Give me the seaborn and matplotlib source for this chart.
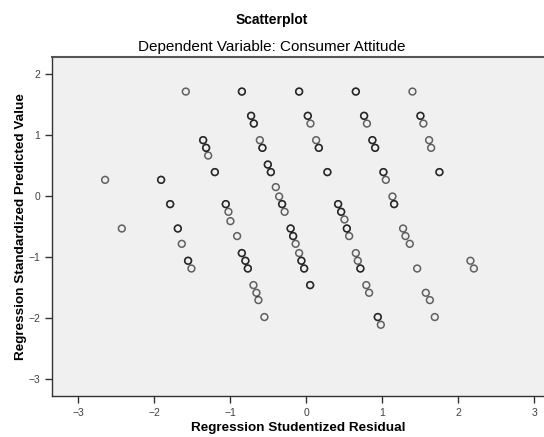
import numpy as np
import pandas as pd
import matplotlib
matplotlib.use("Agg")
import matplotlib.pyplot as plt
import seaborn as sns

# studentized residual, standardized predicted value, number of cases at that spot
resid = [-1.583, -0.845, -0.092, 0.654, 1.399,
         -0.724, 0.022, 0.763, 1.504,
         -0.688, 0.057, 0.800, 1.543,
         -1.355, -0.609, 0.132, 0.872, 1.618,
         -1.316, -0.575, 0.167, 0.908, 1.645,
         -1.289, -0.504,
         -1.201, -0.464, 0.280, 1.017, 1.754,
         -2.645, -1.908, 1.049,
         -0.399,
         -0.355, 1.136,
         -1.789, -1.057, -0.316, 0.421, 1.158,
         -1.022, -0.283, 0.461,
         0.504, -0.996,
         -2.425, -1.688, -0.204, 0.536, 1.276,
         -0.908, -0.171, 0.566, 1.307,
         -1.636, -0.138, 1.364,
         -0.846, -0.092, 0.654,
         -1.553, -0.799, -0.062, 0.680, 2.162,
         -1.509, -0.767, -0.026, 0.714, 1.461, 2.207,
         -0.693, 0.053, 0.792,
         -0.654, 0.829, 1.575,
         -0.628, 1.628,
         -0.549, 0.943, 1.693,
         0.983]
pred = [1.718] * 5 + [1.320] * 4 + [1.193] * 4 + [0.921] * 5 + [0.795] * 5 \
    + [0.669, 0.521] + [0.397] * 5 + [0.270] * 3 + [0.151] + [-0.003] * 2 \
    + [-0.128] * 5 + [-0.254] * 3 + [-0.380, -0.407] + [-0.528] * 5 \
    + [-0.652] * 4 + [-0.779] * 3 + [-0.931] * 3 + [-1.057] * 5 \
    + [-1.184] * 6 + [-1.456] * 3 + [-1.582] * 3 + [-1.702] * 2 \
    + [-1.980] * 3 + [-2.107]
count = [1, 2, 2, 2, 1,
         2, 2, 2, 2,
         2, 1, 1, 1,
         2, 1, 1, 2, 1,
         2, 2, 2, 2, 1,
         1, 2,
         2, 2, 2, 2, 2,
         1, 2, 1,
         1,
         1, 1,
         2, 2, 2, 2, 2,
         1, 1, 2,
         1, 1,
         1, 2, 2, 2, 1,
         1, 2, 1, 1,
         1, 1, 1,
         2, 1, 1,
         2, 2, 2, 1, 1,
         1, 2, 2, 2, 1, 1,
         1, 2, 1,
         1, 1, 1,
         1, 1,
         1, 2, 1,
         1]

df = pd.DataFrame({"resid": resid, "pred": pred, "n": count})
df = df.loc[df.index.repeat(df.n)]

plt.rcParams['font.family'] = ['Liberation Sans', 'DejaVu Sans']

fig = plt.figure(figsize=(5.44, 4.37), dpi=100)
ax = fig.add_axes([0.0961, 0.0945, 0.9039, 0.7744])
ax.set_facecolor('#f0f0f0')

sns.scatterplot(data=df, x="resid", y="pred", ax=ax, marker='o', s=24,
                facecolor='none', edgecolor='black', linewidth=1.1, alpha=0.6,
                color='black')

ax.set_xlim(-3.34, 3.13)
ax.set_ylim(-3.27, 2.28)
ax.set_xticks([-3, -2, -1, 0, 1, 2, 3])
ax.set_yticks([-3, -2, -1, 0, 1, 2])
ax.tick_params(axis='both', labelsize=7.5, labelcolor='#404040', color='#333333',
               length=5, width=1, direction='out')

for side in ['left', 'bottom']:
    ax.spines[side].set_color('#333333')
    ax.spines[side].set_linewidth(1)
ax.spines['top'].set_color('#555555')
ax.spines['top'].set_linewidth(1.5)
ax.spines['right'].set_visible(False)

ax.set_xlabel('Regression Studentized Residual', fontsize=9.7, fontweight='bold', labelpad=3)
ax.set_ylabel('Regression Standardized Predicted Value', fontsize=9.7, fontweight='bold', labelpad=1)

fig.text(0.5, 1 - 20 / 437, 'Scatterplot', ha='center', va='center', fontsize=10, fontweight='bold')
fig.text(0.5, 1 - 47.5 / 437, 'Dependent Variable: Consumer Attitude', ha='center', va='center',
         fontsize=11)

fig.savefig('out.png', dpi=100)
